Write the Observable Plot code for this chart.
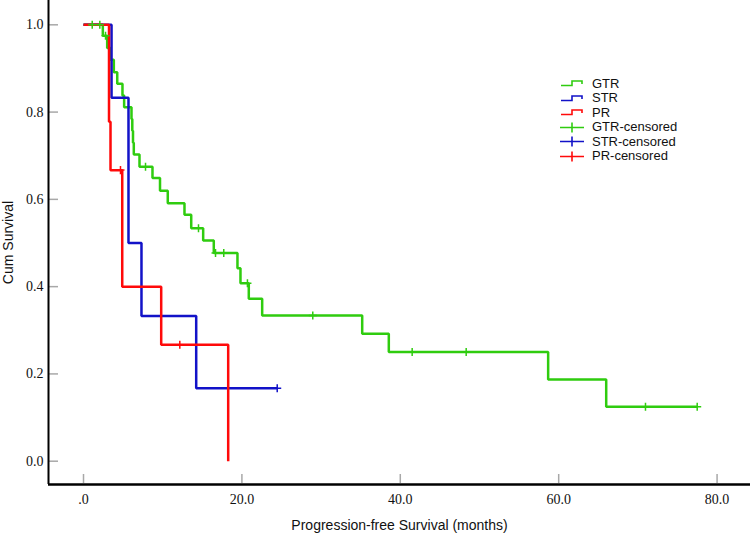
<!DOCTYPE html>
<html>
<head>
<meta charset="utf-8">
<script src="https://cdn.jsdelivr.net/npm/d3@7"></script>
<script src="https://cdn.jsdelivr.net/npm/@observablehq/plot@0.6"></script>
<style>
  html, body { margin: 0; padding: 0; background: #fff; }
  #wrap { position: relative; width: 750px; height: 538px; }
  #wrap svg text { font-family: "Liberation Serif", "Times New Roman", serif; font-size: 14px; }
  #wrap svg g[aria-label="x-axis label"] text,
  #wrap svg g[aria-label="y-axis label"] text { font-family: "Liberation Sans", Arial, sans-serif; font-size: 14px; }
  #legend { position: absolute; left: 560px; top: 76px; font-family: "Liberation Sans", Arial, sans-serif; font-size: 13px; color: #111; }
  #legend .row { display: flex; align-items: center; height: 14.5px; }
  #legend svg { margin-right: 8px; }
</style>
</head>
<body>
<div id="wrap"><div id="legend"></div></div>
<script>
// ---- data ----
const seriesNames = ["GTR", "STR", "PR"];
const seriesColors = ["#2fcc0f", "#1212c8", "#ff0a0a"];

// GTR: event times (months) and survival after each event
const gtrEventTimes = [2.44, 2.99, 3.40, 3.83, 4.26, 4.92, 5.13, 6.06, 6.16, 6.25, 6.35, 7.07, 8.71, 9.66, 10.64, 12.75, 13.60, 15.11, 16.45, 19.44, 19.82, 20.87, 22.56, 35.19, 38.55, 58.67, 66.00];
const gtrSurvival   = [0.975, 0.947, 0.920, 0.891, 0.865, 0.838, 0.811, 0.784, 0.757, 0.730, 0.703, 0.675, 0.649, 0.620, 0.591, 0.565, 0.534, 0.506, 0.477, 0.442, 0.408, 0.372, 0.334, 0.292, 0.250, 0.187, 0.125];
const gtrCensored   = [1.10, 2.06, 2.78, 7.83, 14.52, 16.67, 17.71, 20.70, 28.95, 41.50, 48.32, 70.96, 77.49];
const gtrLastTime   = 77.49;

// STR
const strEventTimes = [3.54, 5.68, 7.32, 14.23];
const strSurvival   = [0.833, 0.500, 0.333, 0.167];
const strCensored   = [24.46];
const strLastTime   = 24.46;

// PR
const prEventTimes = [3.22, 3.41, 4.89, 9.81, 18.27];
const prSurvival   = [0.778, 0.667, 0.400, 0.267, 0.000];
const prCensored   = [4.67, 12.16];
const prLastTime   = 18.27;

// axes
const xTicks = [0, 20, 40, 60, 80];
const yTicks = [0, 0.2, 0.4, 0.6, 0.8, 1.0];
const xDomain = [-4.42, 84.22];
const yDomain = [-0.0534, 1.0557];
const xTitle = "Progression-free Survival (months)";
const yTitle = "Cum Survival";

// ---- build tables ----
function stepAt(times, vals, t) {
  let v = 1;
  for (let i = 0; i < times.length; i++) if (times[i] <= t) v = vals[i];
  return v;
}
function curve(name, times, vals, last) {
  const pts = [{name, t: 0, s: 1}];
  times.forEach((t, i) => pts.push({name, t, s: vals[i]}));
  if (last > times[times.length - 1]) pts.push({name, t: last, s: vals[vals.length - 1]});
  return pts;
}
function censors(name, times, vals, cens) {
  return cens.map(t => ({name, t, s: stepAt(times, vals, t)}));
}
const curves = [
  curve("GTR", gtrEventTimes, gtrSurvival, gtrLastTime),
  curve("STR", strEventTimes, strSurvival, strLastTime),
  curve("PR", prEventTimes, prSurvival, prLastTime)
];
const cens = [
  censors("GTR", gtrEventTimes, gtrSurvival, gtrCensored),
  censors("STR", strEventTimes, strSurvival, strCensored),
  censors("PR", prEventTimes, prSurvival, prCensored)
];

const xFmt = d => d === 0 ? ".0" : d.toFixed(1);

const marks = [
  Plot.tickX(xTicks, {x: d => d, stroke: "#a8a8a8", strokeWidth: 1.5, insetTop: 474, insetBottom: 1}),
  Plot.tickY(yTicks, {y: d => d, stroke: "#a8a8a8", strokeWidth: 1.5, insetLeft: 1, insetRight: 692}),
  Plot.axisX(xTicks, {tickSize: 0, tickPadding: 10, tickFormat: xFmt, label: xTitle, labelAnchor: "center", labelOffset: 45, labelArrow: "none", fontFamily: "Liberation Serif", fontSize: 14, fill: "#111"}),
  Plot.axisY(yTicks, {tickSize: 0, tickPadding: 5, tickFormat: d3.format(".1f"), label: yTitle, labelAnchor: "center", labelOffset: 45, labelArrow: "none", fontFamily: "Liberation Serif", fontSize: 14, fill: "#111"}),
  Plot.ruleX([xDomain[0]], {stroke: "#000", strokeWidth: 2}),
  Plot.ruleY([yDomain[0]], {stroke: "#000", strokeWidth: 2.5})
];
curves.forEach((c, i) => {
  marks.push(Plot.line(c, {x: "t", y: "s", curve: "step-after", stroke: seriesColors[i], strokeWidth: 2.5, strokeLinejoin: "miter", strokeLinecap: "butt"}));
});
cens.forEach((c, i) => {
  marks.push(Plot.dot(c, {x: "t", y: "s", symbol: "plus", r: 2.7, stroke: seriesColors[i], strokeWidth: 1.5, fill: "none"}));
});

const chart = Plot.plot({
  width: 750,
  height: 538,
  marginTop: 0,
  marginRight: 0,
  marginBottom: 54,
  marginLeft: 48,
  x: {domain: xDomain},
  y: {domain: yDomain},
  style: {fontFamily: "'Liberation Serif', serif", fontSize: "14px", color: "#111", background: "#fff"},
  marks
});
const wrap = document.getElementById("wrap");
wrap.insertBefore(chart, wrap.firstChild);

// ---- legend ----
const legend = document.getElementById("legend");
const stepGlyph = c => `<svg width="24" height="12"><path d="M1,8.5 H12 V4 H22 V7" fill="none" stroke="${c}" stroke-width="1.6"/></svg>`;
const plusGlyph = c => `<svg width="24" height="12"><path d="M0,6.5 H24 M12,1.5 V11.5" fill="none" stroke="${c}" stroke-width="1.6"/></svg>`;
seriesNames.forEach((n, i) => {
  legend.insertAdjacentHTML("beforeend", `<div class="row">${stepGlyph(seriesColors[i])}<span>${n}</span></div>`);
});
seriesNames.forEach((n, i) => {
  legend.insertAdjacentHTML("beforeend", `<div class="row">${plusGlyph(seriesColors[i])}<span>${n}-censored</span></div>`);
});
</script>
</body>
</html>
